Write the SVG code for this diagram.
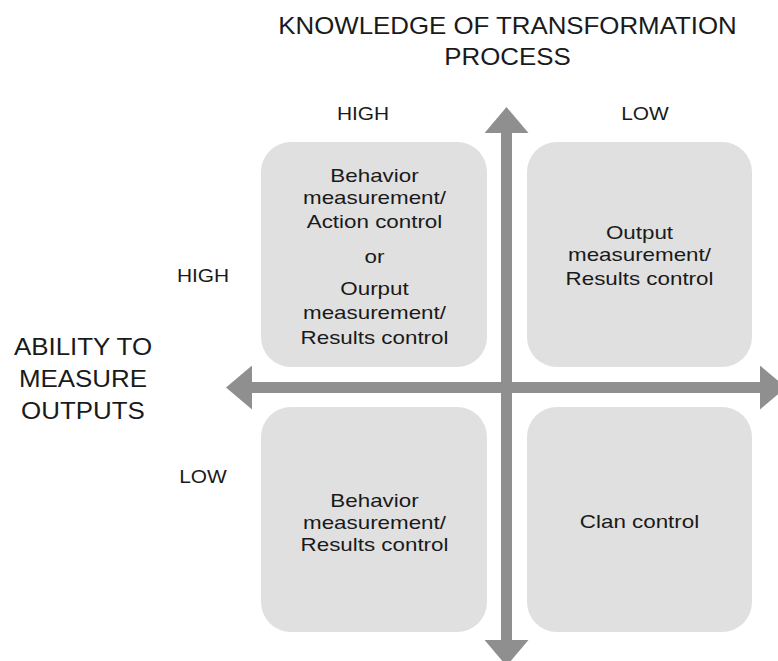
<svg xmlns="http://www.w3.org/2000/svg" width="778" height="661" viewBox="0 0 778 661">
  <style>
    text { font-family: "Liberation Sans", Arial, Helvetica, sans-serif; fill: #1a1a1a; text-anchor: middle; }
    .title { font-size: 23.5px; }
    .axis { font-size: 24px; }
    .lvl { font-size: 19px; }
    .box { fill: #e0e0e0; }
    .btxt { font-size: 18.5px; }
    .arrow { stroke: #8f8f8f; stroke-width: 11; fill: none; marker-start: url(#head); marker-end: url(#head); }
  </style>
  <defs>
    <marker id="head" markerUnits="userSpaceOnUse" viewBox="0 0 26 44" refX="0" refY="22" markerWidth="26" markerHeight="44" orient="auto-start-reverse">
      <path d="M0,0 L26,22 L0,44 Z" fill="#8f8f8f"/>
    </marker>
  </defs>
  <rect width="778" height="661" fill="#ffffff"/>

  <g id="title" transform="translate(507.5,0) scale(1.1,1)">
    <text class="title" x="0" y="34">KNOWLEDGE OF TRANSFORMATION</text>
    <text class="title" x="0" y="65">PROCESS</text>
  </g>
  <g id="axis-label" transform="translate(83,0) scale(1.08,1)">
    <text class="axis" x="0" y="355">ABILITY TO</text>
    <text class="axis" x="0" y="387">MEASURE</text>
    <text class="axis" x="0" y="419">OUTPUTS</text>
  </g>
  <g id="level-labels">
    <text class="lvl" transform="translate(363,0) scale(1.1,1)" x="0" y="120">HIGH</text>
    <text class="lvl" transform="translate(645,0) scale(1.1,1)" x="0" y="120">LOW</text>
    <text class="lvl" transform="translate(203,0) scale(1.1,1)" x="0" y="282">HIGH</text>
    <text class="lvl" transform="translate(203,0) scale(1.1,1)" x="0" y="483">LOW</text>
  </g>

  <g id="node-ul">
    <rect class="box" x="261" y="142" width="226" height="225" rx="30" ry="30"/>
    <g transform="translate(374.5,0) scale(1.21,1)">
      <text class="btxt" x="0" y="182">Behavior</text>
      <text class="btxt" x="0" y="204">measurement/</text>
      <text class="btxt" x="0" y="228">Action control</text>
      <text class="btxt" x="0" y="263">or</text>
      <text class="btxt" x="0" y="295">Ourput</text>
      <text class="btxt" x="0" y="319">measurement/</text>
      <text class="btxt" x="0" y="344">Results control</text>
    </g>
  </g>
  <g id="node-ur">
    <rect class="box" x="527" y="142" width="225" height="225" rx="30" ry="30"/>
    <g transform="translate(639.5,0) scale(1.21,1)">
      <text class="btxt" x="0" y="239">Output</text>
      <text class="btxt" x="0" y="261">measurement/</text>
      <text class="btxt" x="0" y="285">Results control</text>
    </g>
  </g>
  <g id="node-ll">
    <rect class="box" x="261" y="407" width="226" height="225" rx="30" ry="30"/>
    <g transform="translate(374.5,0) scale(1.21,1)">
      <text class="btxt" x="0" y="507">Behavior</text>
      <text class="btxt" x="0" y="529">measurement/</text>
      <text class="btxt" x="0" y="551">Results control</text>
    </g>
  </g>
  <g id="node-lr">
    <rect class="box" x="527" y="407" width="225" height="225" rx="30" ry="30"/>
    <g transform="translate(639.5,0) scale(1.21,1)">
      <text class="btxt" x="0" y="528">Clan control</text>
    </g>
  </g>

  <g id="connectors">
    <line class="arrow" x1="506.5" y1="133" x2="506.5" y2="640"/>
    <line class="arrow" x1="252" y1="387.5" x2="760" y2="387.5"/>
  </g>
</svg>
